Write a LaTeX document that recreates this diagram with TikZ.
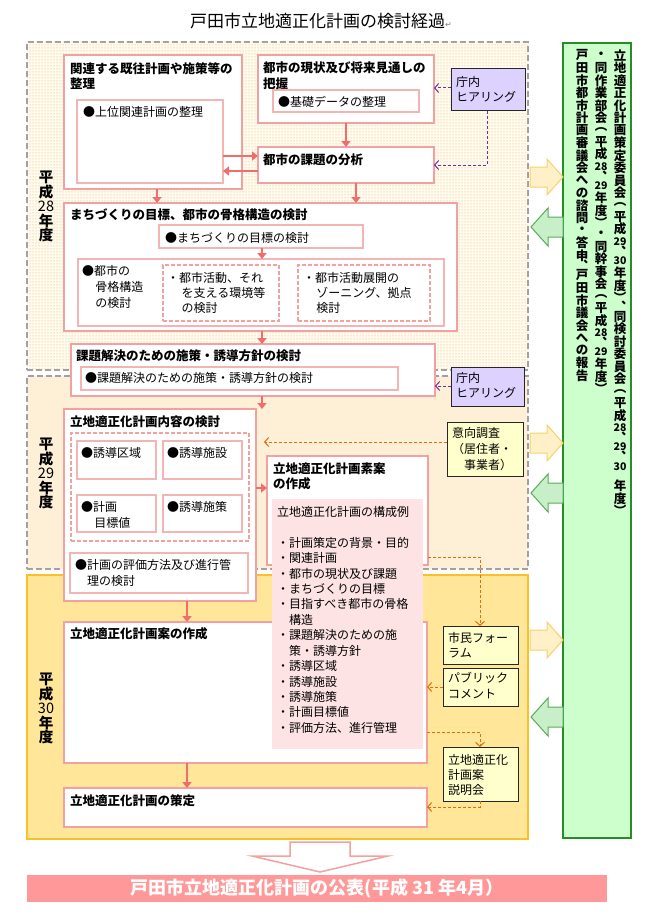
\documentclass[tikz,border=0pt]{standalone}
\usepackage{fontspec}
\setmainfont{Noto Sans CJK JP}
\newfontfamily\symfont{DejaVu Sans}
\usepackage{graphicx}
\usetikzlibrary{arrows.meta,patterns}

\makeatletter
\newdimen\vt@h
\newcommand\VS[2]{\global\vt@h=#1em\relax#2}
\newcommand\VD[1]{\global\vt@h=.95em\relax{\fontsize{10.5}{10.5}\selectfont #1}}
\newcommand\VR[1]{{\mdseries #1}}
\newcommand\vtext[1]{\vbox{\offinterlineskip\@tfor\vt@c:=#1\do{\global\vt@h=1em\relax\setbox0\hbox{\vt@c}\hbox to 1em{\hss\vbox to\vt@h{\vss\box0\vss}\hss}}}}
\makeatother

\definecolor{pinkline}{RGB}{243,160,160}
\definecolor{pinkthin}{RGB}{245,180,180}
\definecolor{arrowpink}{RGB}{242,108,108}
\definecolor{dashgray}{RGB}{160,160,165}
\definecolor{dotcol}{RGB}{228,172,95}
\definecolor{cream}{RGB}{255,251,238}
\definecolor{hfill29}{RGB}{253,240,215}
\definecolor{hfill30}{RGB}{255,230,153}
\definecolor{hline30}{RGB}{250,192,40}
\definecolor{lav}{RGB}{221,210,255}
\definecolor{purp}{RGB}{112,48,160}
\definecolor{oran}{RGB}{228,108,10}
\definecolor{ylw}{RGB}{255,255,204}
\definecolor{grnfill}{RGB}{204,255,204}
\definecolor{grnline}{RGB}{40,140,40}
\definecolor{panelpink}{RGB}{253,227,227}
\definecolor{banner}{RGB}{255,153,153}
\definecolor{yarrfill}{RGB}{255,240,200}
\definecolor{yarrline}{RGB}{245,210,110}
\definecolor{garrfill}{RGB}{200,240,200}
\definecolor{garrline}{RGB}{90,170,90}

\newcommand\bx[5]{\node[#1, minimum width=#4pt, minimum height=#5pt] (#2) at (#3) {};}

\begin{document}
\begin{tikzpicture}[x=1pt,y=-1pt,
  region/.style={anchor=north west, inner sep=0, outer sep=0},
  pbox/.style={draw=pinkline, line width=2pt, fill=white, anchor=north west, inner sep=0, outer sep=0},
  thinbox/.style={draw=pinkthin, line width=1.2pt, fill=white, anchor=north west, inner sep=0, outer sep=0},
  dbox/.style={draw=pinkline, line width=1.5pt, dash pattern=on 4pt off 2pt, anchor=north west, inner sep=0, outer sep=0},
  sidebox/.style={draw=black!85, line width=1pt, anchor=north west, inner sep=0, outer sep=0},
  hd/.style={anchor=north west, inner sep=0, font=\fontsize{12.5}{15.5}\selectfont\bfseries, align=left},
  tx/.style={anchor=north west, inner sep=0, font=\fontsize{12}{15.5}\selectfont, align=left},
  parrow/.style={draw=arrowpink, line width=1.5pt, -{Triangle[length=6pt,width=9pt]}},
  pdash/.style={draw=purp, line width=1pt, dash pattern=on 3pt off 2pt, -{Straight Barb[length=4pt,width=9pt]}},
  odash/.style={draw=oran, line width=1pt, dash pattern=on 3pt off 2pt, -{Straight Barb[length=4pt,width=9pt]}},
  yarr/.style={draw=yarrline, fill=yarrfill, line width=1pt},
  garr/.style={draw=garrline, fill=garrfill, line width=1pt},
  vlab/.style={anchor=north, inner sep=0, font=\fontsize{14.5}{14.5}\selectfont\bfseries},
  vcol/.style={anchor=north, inner sep=0, font=\fontsize{12.5}{12.5}\selectfont\bfseries}
]
\useasboundingbox (0,0) rectangle (646,915);

% title
\node[anchor=west, inner sep=0, font=\fontsize{17}{17}\selectfont] (title) at (190,21) {戸田市立地適正化計画の検討経過{\symfont\fontsize{8}{8}\selectfont\color{gray}↵}};

% period regions
\node[region, fill=cream, postaction={pattern=dots, pattern color=dotcol}, draw=dashgray, line width=1.5pt, dash pattern=on 6pt off 3pt, minimum width=501pt, minimum height=328pt] (r28) at (27,42) {};
\node[region, fill=hfill29, draw=dashgray, line width=1.5pt, dash pattern=on 6pt off 3pt, minimum width=501pt, minimum height=193pt] (r29) at (27,376) {};
\node[region, fill=hfill30, draw=hline30, line width=1.5pt, minimum width=501pt, minimum height=264pt] (r30) at (27,575) {};

% period labels
\node[vlab] (l28) at (46,170) {\vtext{平成{\VR{28}}年度}};
\node[vlab] (l29) at (46,437) {\vtext{平成{\VR{29}}年度}};
\node[vlab] (l30) at (46,672) {\vtext{平成{\VR{30}}年度}};

% green committee box
\node[region, fill=grnfill, draw=grnline, line width=2pt, minimum width=68pt, minimum height=795pt] (grn) at (563,43) {};
\node[vcol] (gc1) at (620,49) {\vtext{立地適正化計画策定委員会{\VS{.9}{︵}}平成{\VD{29}}{\VS{.6}{︑}}{\VD{30}}年度{\VS{.9}{︶}}{\VS{.6}{︑}}同検討委員会{\VS{.9}{︵}}平成{\VD{28}}{\VS{.6}{︑}}{\VD{29}}{\VS{.6}{︑}}{\VD{30}}{\VS{.6}{}}年度{\VS{.9}{︶}}}};
\node[vcol] (gc2) at (601,49) {\vtext{・同作業部会{\VS{.9}{︵}}平成{\VD{28}}{\VS{.6}{︑}}{\VD{29}}年度{\VS{.9}{︶}}・同幹事会{\VS{.9}{︵}}平成{\VD{28}}{\VS{.6}{︑}}{\VD{29}}年度{\VS{.9}{︶}}}};
\node[vcol] (gc3) at (582,49) {\vtext{戸田市都市計画審議会への諮問・答申{\VS{.6}{︑}}戸田市議会への報告}};

% block arrows between periods and committee
\foreach \c in {177,443,640}{
  \draw[yarr] (530,\c-10) -- (547,\c-10) -- (547,\c-18) -- (563,\c) -- (547,\c+18) -- (547,\c+10) -- (530,\c+10) -- cycle;}
\foreach \c in {227,493,717}{
  \draw[garr] (563,\c-10) -- (548,\c-10) -- (548,\c-19) -- (531,\c) -- (548,\c+19) -- (548,\c+10) -- (563,\c+10) -- cycle;}

% boxes H28
\bx{pbox}{A}{64,55}{178}{134}
\bx{thinbox}{Ai}{77,100}{146}{83}
\bx{pbox}{B}{258,55}{176}{68}
\bx{thinbox}{Bi}{273,90}{146}{22}
\bx{pbox}{C}{258,147}{176}{36}
\bx{sidebox, fill=lav}{T1}{451,69}{74}{42}
\bx{pbox}{D}{64,203}{393}{128}
\bx{thinbox}{Di}{159,225}{204}{23}
\bx{thinbox}{Db}{78,259}{366}{67}
\bx{dbox}{Dd1}{163,265}{116}{56}
\bx{dbox}{Dd2}{298,265}{132}{56}
\bx{pbox}{E}{71,344}{364}{52}
\bx{thinbox}{Ei}{81,367}{317}{23}
\bx{sidebox, fill=lav}{T2}{451,367}{73}{39}
% H29
\bx{pbox}{F}{64,409}{192}{192}
\bx{dbox}{Fd}{71,433}{178}{108}
\bx{thinbox}{F1}{77,441}{79}{38}
\bx{thinbox}{F2}{163,441}{79}{38}
\bx{thinbox}{F3}{77,495}{79}{37}
\bx{thinbox}{F4}{163,495}{79}{37}
\bx{thinbox}{F5}{70,553}{178}{40}
\bx{pbox}{G}{267,456}{161}{109}
\bx{sidebox, fill=ylw}{Q}{447,422}{76}{54}
% H30
\bx{pbox}{H}{64,622}{363}{141}
\bx{pbox}{I}{64,788}{363}{39}
\bx{sidebox, fill=ylw}{S1}{443,626}{75}{38}
\bx{sidebox, fill=ylw}{S2}{443,668}{75}{38}
\bx{sidebox, fill=ylw}{S3}{443,747}{75}{54}
\node[region, fill=panelpink, minimum width=151pt, minimum height=250pt] (P) at (272,499) {};

% connectors
\draw[parrow] (B.south -| 346,0) -- (C.north -| 346,0);
\draw[parrow] (Ai.east |- 0,156) -- (C.west |- 0,156);
\draw[parrow] (C.west |- 0,171) -- (Ai.east |- 0,171);
\draw[parrow] (C.south -| 356,0) -- (D.north -| 356,0);
\draw[parrow] (A.south -| 157,0) -- (D.north -| 157,0);
\draw[parrow] (Di.south -| 262,0) -- (Db.north -| 262,0);
\draw[parrow] (D.south -| 262,0) -- (E.north -| 262,0);
\draw[parrow] (E.south -| 262,0) -- (F.north -| 262,0);
\draw[parrow] (F.east |- 0,488) -- (G.west |- 0,488);
\draw[parrow] (F.south -| 187,0) -- (H.north -| 187,0);
\draw[parrow] (H.south -| 187,0) -- (I.north -| 187,0);
\draw[pdash] (T1.west |- 0,88) -- (B.east |- 0,88);
\draw[pdash] (T1.south -| 487,0) |- (C.east |- 0,165);
\draw[pdash] (T2.west |- 0,386) -- (E.east |- 0,386);
\draw[odash, shorten >=8pt] (Q.west |- 0,442) -- (F.east |- 0,442);
\draw[odash] (G.east |- 0,557) -| (S1.north -| 480,0);
\draw[odash] (H.east |- 0,732) -| (S3.north -| 480,0);
\draw[odash] (S2.west |- 0,687) -- (H.east |- 0,687);
\draw[odash] (S3.south -| 480,0) |- (I.east |- 0,807);

% big down arrow and banner
\draw[draw=pinkline, fill=white, line width=1.5pt] (290,842) -- (350,842) -- (350,856) -- (388,856) -- (320,872) -- (252,856) -- (290,856) -- cycle;
\node[region, fill=banner, minimum width=580pt, minimum height=27pt] (ban) at (27,875) {};
\node[inner sep=0, text=white, font=\fontsize{18}{18}\selectfont\bfseries] (bant) at (ban.center) {戸田市立地適正化計画の公表(平成 31 年4月）};

% texts
\node[hd] (tA) at (70,62) {関連する既往計画や施策等の\\整理};
\node[tx] (tAi) at (83,106) {●上位関連計画の整理};
\node[hd] (tB) at (263,62) {都市の現状及び将来見通しの\\把握};
\node[tx] (tBi) at (278,96) {●基礎データの整理};
\node[hd] (tC) at (263,154) {都市の課題の分析};
\node[tx, font=\fontsize{12}{15}\selectfont] (tT1) at (456,76) {庁内\\ヒアリング};
\node[hd] (tD) at (70,209) {まちづくりの目標、都市の骨格構造の検討};
\node[tx] (tDi) at (165,232) {●まちづくりの目標の検討};
\node[tx, font=\fontsize{12}{16}\selectfont] (tDb) at (82,265) {●都市の\\\hspace*{1.1em}骨格構造\\\hspace*{1.1em}の検討};
\node[tx, font=\fontsize{12}{15}\selectfont] (tDd1) at (167,272) {・都市活動、それ\\\hspace*{1.2em}を支える環境等\\\hspace*{1.2em}の検討};
\node[tx, font=\fontsize{12}{15}\selectfont] (tDd2) at (303,272) {・都市活動展開の\\\hspace*{1.1em}ゾーニング、拠点\\\hspace*{1.1em}検討};
\node[hd] (tE) at (76,349) {課題解決のための施策・誘導方針の検討};
\node[tx] (tEi) at (85,372) {●課題解決のための施策・誘導方針の検討};
\node[tx, font=\fontsize{12}{15}\selectfont] (tT2) at (456,372) {庁内\\ヒアリング};
\node[hd] (tF) at (70,416) {立地適正化計画内容の検討};
\node[tx] (tF1) at (81,447) {●誘導区域};
\node[tx] (tF2) at (167,447) {●誘導施設};
\node[tx, font=\fontsize{12}{16}\selectfont] (tF3) at (81,501) {●計画\\\hspace*{1.1em}目標値};
\node[tx] (tF4) at (167,501) {●誘導施策};
\node[tx, font=\fontsize{12}{16}\selectfont] (tF5) at (75,559) {●計画の評価方法及び進行管\\\hspace*{1em}理の検討};
\node[hd, font=\fontsize{12.5}{15}\selectfont\bfseries] (tG) at (273,463) {立地適正化計画素案\\の作成};
\node[tx, font=\fontsize{12}{15.43}\selectfont] (tP) at (277,506) {立地適正化計画の構成例\\\mbox{}\\・計画策定の背景・目的\\・関連計画\\・都市の現状及び課題\\・まちづくりの目標\\・目指すべき都市の骨格\\\hspace*{1em}構造\\・課題解決のための施\\\hspace*{1em}策・誘導方針\\・誘導区域\\・誘導施設\\・誘導施策\\・計画目標値\\・評価方法、進行管理};
\node[tx, font=\fontsize{12}{16}\selectfont] (tQ) at (452,427) {意向調査\\（居住者・\\\hspace*{1em}事業者）};
\node[hd] (tH) at (70,627) {立地適正化計画案の作成};
\node[hd] (tI) at (70,794) {立地適正化計画の策定};
\node[tx, font=\fontsize{12}{15}\selectfont] (tS1) at (448,632) {市民フォー\\ラム};
\node[tx, font=\fontsize{12}{16}\selectfont] (tS2) at (448,672) {パブリック\\コメント};
\node[tx, font=\fontsize{12}{15}\selectfont] (tS3) at (448,754) {立地適正化\\計画案\\説明会};
\end{tikzpicture}
\end{document}
